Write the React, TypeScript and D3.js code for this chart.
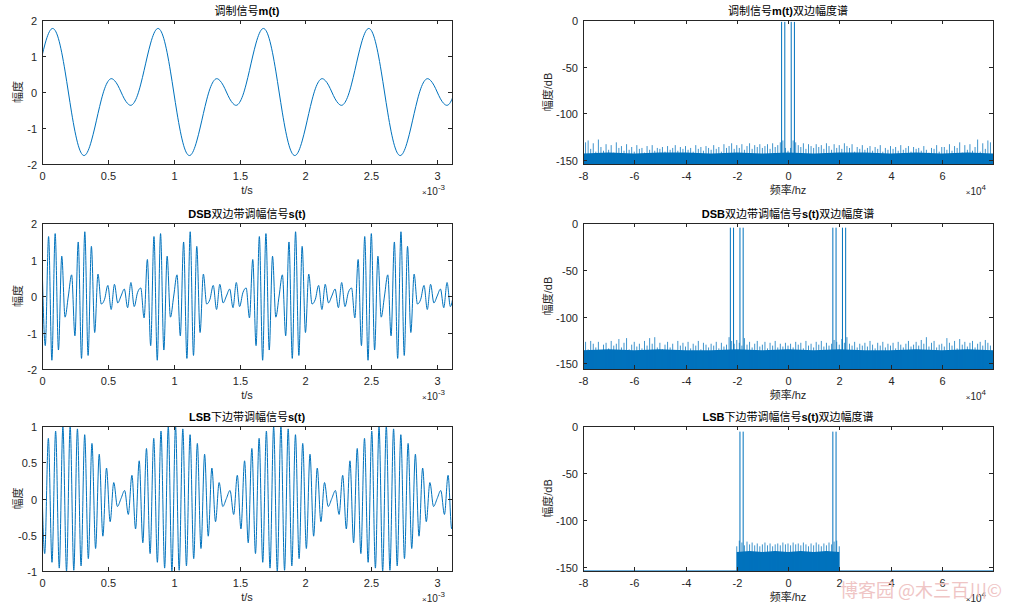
import React from 'react';
import * as d3 from 'd3';

const W = 1024;
const H = 608;
const BLUE = '#0072BD';
const INK = '#262626';
const FONT = '"Liberation Sans", Arial, "Noto Sans CJK SC", sans-serif';

// ---- time signals, values read at a regular step ----
const tEnd = 3.1125e-3;
const sigStep = 0.025e-3;
const mValues = [
  1.00, 1.36, 1.63, 1.76, 1.71, 1.48, 1.09, 0.58, 0.00, -0.58, -1.09, -1.48, -1.71, -1.76, -1.63, -1.36,
  -1.00, -0.60, -0.22, 0.09, 0.29, 0.37, 0.32, 0.19, 0.00, -0.19, -0.32, -0.37, -0.29, -0.09, 0.22, 0.60,
  1.00, 1.36, 1.63, 1.76, 1.71, 1.48, 1.09, 0.58, 0.00, -0.58, -1.09, -1.48, -1.71, -1.76, -1.63, -1.36,
  -1.00, -0.60, -0.22, 0.09, 0.29, 0.37, 0.32, 0.19, 0.00, -0.19, -0.32, -0.37, -0.29, -0.09, 0.22, 0.60,
  1.00, 1.36, 1.63, 1.76, 1.71, 1.48, 1.09, 0.58, 0.00, -0.58, -1.09, -1.48, -1.71, -1.76, -1.63, -1.36,
  -1.00, -0.60, -0.22, 0.09, 0.29, 0.37, 0.32, 0.19, 0.00, -0.19, -0.32, -0.37, -0.29, -0.09, 0.22, 0.60,
  1.00, 1.36, 1.63, 1.76, 1.71, 1.48, 1.09, 0.58, 0.00, -0.58, -1.09, -1.48, -1.71, -1.76, -1.63, -1.36,
  -1.00, -0.60, -0.22, 0.09, 0.29, 0.37, 0.32, 0.19, 0.00, -0.19, -0.32, -0.37, -0.29, -0.09,
];
const dsbValues = [
  1.00, -1.36, 1.63, -1.76, 1.71, -1.48, 1.09, -0.58, 0.00, 0.58, -1.09, 1.48, -1.71, 1.76, -1.63, 1.36,
  -1.00, 0.60, -0.22, -0.09, 0.29, -0.37, 0.32, -0.19, 0.00, 0.19, -0.32, 0.37, -0.29, 0.09, 0.22, -0.60,
  1.00, -1.36, 1.63, -1.76, 1.71, -1.48, 1.09, -0.58, 0.00, 0.58, -1.09, 1.48, -1.71, 1.76, -1.63, 1.36,
  -1.00, 0.60, -0.22, -0.09, 0.29, -0.37, 0.32, -0.19, 0.00, 0.19, -0.32, 0.37, -0.29, 0.09, 0.22, -0.60,
  1.00, -1.36, 1.63, -1.76, 1.71, -1.48, 1.09, -0.58, 0.00, 0.58, -1.09, 1.48, -1.71, 1.76, -1.63, 1.36,
  -1.00, 0.60, -0.22, -0.09, 0.29, -0.37, 0.32, -0.19, 0.00, 0.19, -0.32, 0.37, -0.29, 0.09, 0.22, -0.60,
  1.00, -1.36, 1.63, -1.76, 1.71, -1.48, 1.09, -0.58, 0.00, 0.58, -1.09, 1.48, -1.71, 1.76, -1.63, 1.36,
  -1.00, 0.60, -0.22, -0.09, 0.29, -0.37, 0.32, -0.19, 0.00, 0.19, -0.32, 0.37, -0.29, 0.09,
];
// LSB peaks (carrier ~18.1 kHz), first one just before t = 0
const lsbStart = -6.9e-6;
const lsbStep = 27.586e-6;
const lsbValues = [
  0.69,
  -0.76, 0.83, -0.88, 0.93, -0.96, 0.99, -1.00, 1.00, -0.99, 0.96, -0.93, 0.88, -0.83, 0.76, -0.69,
  0.61, -0.52, 0.42, -0.32, 0.22, -0.11, 0.00, 0.11, -0.22, 0.32, -0.42, 0.52, -0.61, 0.69,
  -0.76, 0.83, -0.88, 0.93, -0.96, 0.99, -1.00, 1.00, -0.99, 0.96, -0.93, 0.88, -0.83, 0.76, -0.69,
  0.61, -0.52, 0.42, -0.32, 0.22, -0.11, 0.00, 0.11, -0.22, 0.32, -0.42, 0.52, -0.61, 0.69,
  -0.76, 0.83, -0.88, 0.93, -0.96, 0.99, -1.00, 1.00, -0.99, 0.96, -0.93, 0.88, -0.83, 0.76, -0.69,
  0.61, -0.52, 0.42, -0.32, 0.22, -0.11, 0.00, 0.11, -0.22, 0.32, -0.42, 0.52, -0.61, 0.69,
  -0.76, 0.83, -0.88, 0.93, -0.96, 0.99, -1.00, 1.00, -0.99, 0.96, -0.93, 0.88, -0.83, 0.76, -0.69,
  0.61, -0.52, 0.42, -0.32, 0.22, -0.11, 0.00, 0.11, -0.22, 0.32, -0.42, 0.52,
];

const timeTicks = [0, 0.5e-3, 1e-3, 1.5e-3, 2e-3, 2.5e-3, 3e-3];
const timeTickLabels = ['0', '0.5', '1', '1.5', '2', '2.5', '3'];
const ampTicks = [-2, -1, 0, 1, 2];
const ampTickLabels = ['-2', '-1', '0', '1', '2'];
const lsbAmpTicks = [-1, -0.5, 0, 0.5, 1];
const lsbAmpTickLabels = ['-1', '-0.5', '0', '0.5', '1'];

// ---- spectra ----
const freqTicks = [-8e4, -6e4, -4e4, -2e4, 0, 2e4, 4e4, 6e4];
const freqTickLabels = ['-8', '-6', '-4', '-2', '0', '2', '4', '6'];
const dbTicks = [-150, -100, -50, 0];
const dbTickLabels = ['-150', '-100', '-50', '0'];

const spikeFreqs = d3.range(-80, 80).map((k) => k * 1000);
const bandFreqs = d3.range(-80, 81, 10).map((k) => k * 1000);
const lsbSpikeFreqs = d3.range(-20, 21).map((k) => k * 1000);
const lsbBandFreqs = d3.range(-20, 21, 5).map((k) => k * 1000);

const mToneFreqs = [-2500, -1250, 1250, 2500];
const mToneDb = [-2, -2, -2, -2];
const mBandDb = [-143, -142, -143, -142, -142, -143, -142, -143, -142, -143, -142, -142, -143, -142, -143, -142, -143];
const mSpikeDb = [
  -137, -131, -129, -138, -132, -141, -128, -136, -140, -133,
  -139, -134, -142, -131, -137, -135, -140, -133, -139, -136,
  -141, -134, -138, -137, -142, -135, -139, -134, -140, -137,
  -138, -136, -141, -135, -139, -137, -134, -140, -136, -138,
  -135, -139, -137, -141, -134, -138, -136, -140, -135, -137,
  -139, -134, -138, -136, -141, -133, -137, -135, -132, -138,
  -134, -137, -133, -139, -135, -132, -138, -134, -136, -133,
  -137, -135, -133, -138, -132, -136, -134, -131, -129, -137,
  -140, -137, -129, -131, -134, -136, -132, -138, -133, -135,
  -137, -133, -136, -134, -138, -132, -135, -139, -133, -137,
  -134, -138, -132, -135, -137, -133, -141, -136, -138, -134,
  -139, -137, -135, -140, -136, -138, -134, -141, -137, -139,
  -135, -138, -136, -140, -134, -139, -137, -135, -141, -136,
  -138, -137, -140, -135, -139, -142, -137, -138, -134, -141,
  -136, -136, -139, -133, -140, -135, -137, -131, -142, -134,
  -139, -133, -140, -136, -128, -141, -132, -138, -129, -131,
];

const dsbToneFreqs = [-22500, -21250, -18750, -17500, 17500, 18750, 21250, 22500];
const dsbToneDb = [-5, -5, -5, -5, -5, -5, -5, -5];
const dsbBandDb = [-136, -135, -136, -135, -136, -136, -135, -136, -135, -136, -135, -136, -136, -135, -136, -135, -136];
const dsbSpikeDb = [
  -131, -127, -135, -126, -129, -133, -127, -136, -130, -128,
  -134, -126, -131, -129, -124, -133, -128, -123, -135, -130,
  -127, -132, -129, -134, -126, -131, -123, -129, -122, -133,
  -128, -135, -130, -127, -133, -129, -136, -126, -131, -128,
  -132, -127, -134, -129, -131, -126, -135, -128, -130, -133,
  -129, -131, -127, -134, -128, -132, -130, -122, -126, -129,
  -125, -128, -131, -123, -130, -127, -133, -129, -126, -132,
  -130, -127, -134, -128, -131, -126, -133, -129, -132, -128,
  -131, -129, -133, -127, -130, -128, -134, -126, -131, -129,
  -133, -127, -130, -126, -132, -128, -131, -129, -125, -127,
  -130, -124, -128, -122, -129, -131, -127, -133, -129, -131,
  -128, -132, -126, -130, -134, -128, -131, -127, -133, -129,
  -131, -128, -134, -127, -130, -133, -129, -126, -132, -130,
  -127, -131, -125, -129, -122, -132, -128, -126, -133, -130,
  -129, -132, -123, -128, -131, -126, -134, -124, -130, -127,
  -132, -128, -126, -133, -129, -127, -131, -125, -128, -131,
];

const lsbToneFreqs = [-18750, -17500, 17500, 18750];
const lsbToneDb = [-6, -6, -6, -6];
const lsbFloorDb = -154;
const lsbBandDb = [-134, -133, -134, -133, -134, -133, -134, -133, -134];
const lsbSpikeDb = [
  -128, -122, -124, -127, -123, -126, -124, -127, -125, -128,
  -126, -124, -127, -125, -128, -126, -125, -127, -124, -126,
  -125, -127, -124, -126, -125, -127, -124, -126, -128, -125,
  -127, -124, -126, -128, -125, -127, -124, -126, -123, -122, -128,
];

const LEFT = [42, 452];
const RIGHT = [583, 993];
const ROWS = [[20, 164], [223, 369], [426, 571]];

function Title({ x, y, text }) {
  const parts = text.match(/[\x00-\x7F]+|[^\x00-\x7F]+/g) || [];
  return (
    <text x={x} y={y} textAnchor="middle" fontSize={11} fill="#000">
      {parts.map((p, i) => (
        <tspan key={i} fontWeight={/[\x00-\x7F]/.test(p) ? 'bold' : 'normal'}>{p}</tspan>
      ))}
    </text>
  );
}

function Axes({ x0, x1, y0, y1, xScale, yScale, xTicks, xTickLabels, yTicks, yTickLabels,
  title, xLabel, yLabel, yLabelDx, exponent, clipId, children }) {
  return (
    <g>
      <defs>
        <clipPath id={clipId}>
          <rect x={x0} y={y0} width={x1 - x0} height={y1 - y0} />
        </clipPath>
      </defs>
      <g clipPath={`url(#${clipId})`}>{children}</g>
      <rect x={x0 + 0.5} y={y0 + 0.5} width={x1 - x0} height={y1 - y0} fill="none" stroke={INK} strokeWidth={1} />
      {xTicks.map((t, i) => {
        const x = Math.round(xScale(t)) + 0.5;
        return (
          <g key={'x' + i}>
            <line x1={x} x2={x} y1={y1} y2={y1 - 4} stroke={INK} />
            <line x1={x} x2={x} y1={y0} y2={y0 + 4} stroke={INK} />
            <text x={x} y={y1 + 16} textAnchor="middle" fontSize={11} fill={INK}>{xTickLabels[i]}</text>
          </g>
        );
      })}
      {yTicks.map((t, i) => {
        const y = Math.round(yScale(t)) + 0.5;
        return (
          <g key={'y' + i}>
            <line x1={x0} x2={x0 + 4} y1={y} y2={y} stroke={INK} />
            <line x1={x1} x2={x1 - 4} y1={y} y2={y} stroke={INK} />
            <text x={x0 - 5} y={y + 4} textAnchor="end" fontSize={11} fill={INK}>{yTickLabels[i]}</text>
          </g>
        );
      })}
      <Title x={(x0 + x1) / 2} y={y0 - 5} text={title} />
      <text x={(x0 + x1) / 2} y={y1 + 30} textAnchor="middle" fontSize={11} fill={INK}>{xLabel}</text>
      <text x={x1 - 7} y={y1 + 31} textAnchor="end" fontSize={10} fill={INK}>
        <tspan fontSize={8}>×</tspan>10<tspan dy={-5} fontSize={8}>{exponent}</tspan>
      </text>
      <text transform={`translate(${x0 - yLabelDx},${(y0 + y1) / 2}) rotate(-90)`} textAnchor="middle"
        dy="0.35em" fontSize={11} fill={INK}>{yLabel}</text>
    </g>
  );
}

function TimePanel({ row, title, values, t0, step, yDomain, yTicks, yTickLabels, curve, id }) {
  const [y0, y1] = ROWS[row];
  const [x0, x1] = LEFT;
  const x = d3.scaleLinear().domain([0, tEnd]).range([x0, x1]);
  const y = d3.scaleLinear().domain(yDomain).range([y1, y0]);
  const line = d3.line<number>()
    .x((_, i) => x(t0 + i * step))
    .y((d) => y(d))
    .curve(curve);
  return (
    <Axes x0={x0} x1={x1} y0={y0} y1={y1} xScale={x} yScale={y} xTicks={timeTicks} xTickLabels={timeTickLabels}
      yTicks={yTicks} yTickLabels={yTickLabels} title={title} xLabel="t/s" yLabel="幅度" yLabelDx={24}
      exponent="-3" clipId={id}>
      <path d={line(values) || ''} fill="none" stroke={BLUE} strokeWidth={1} />
    </Axes>
  );
}

function SpecPanel({ row, title, yMin, tones, toneDb, band, bandDb, spikes, spikeDb, floorDb, id }) {
  const [y0, y1] = ROWS[row];
  const [x0, x1] = RIGHT;
  const x = d3.scaleLinear().domain([-80000, 79999]).range([x0, x1]);
  const y = d3.scaleLinear().domain([yMin, 0]).range([y1, y0]);
  const area = d3.area<number>()
    .x((f) => x(f))
    .y0(y1)
    .y1((_, i) => y(bandDb[i]));
  return (
    <Axes x0={x0} x1={x1} y0={y0} y1={y1} xScale={x} yScale={y} xTicks={freqTicks} xTickLabels={freqTickLabels}
      yTicks={dbTicks} yTickLabels={dbTickLabels} title={title} xLabel="频率/hz" yLabel="幅度/dB" yLabelDx={35}
      exponent="4" clipId={id}>
      {floorDb !== undefined && (
        <line x1={x0} x2={x1} y1={y(floorDb)} y2={y(floorDb)} stroke={BLUE} strokeWidth={1} opacity={0.7} />
      )}
      <path d={area(band) || ''} fill={BLUE} />
      {spikes.map((f, i) => (
        <line key={i} x1={x(f)} x2={x(f)} y1={y1} y2={y(spikeDb[i])} stroke={BLUE} strokeWidth={1} opacity={0.75} />
      ))}
      {tones.map((f, i) => (
        <line key={'t' + i} x1={x(f)} x2={x(f)} y1={y1} y2={y(toneDb[i])} stroke={BLUE} strokeWidth={1} />
      ))}
    </Axes>
  );
}

export default function App() {
  return (
    <div style={{ position: 'fixed', left: 0, top: 0, width: W, height: H, background: '#fff' }}>
      <svg width={W} height={H} style={{ display: 'block', fontFamily: FONT }}>
        <rect width={W} height={H} fill="#fff" />
        <TimePanel row={0} id="c0" title="调制信号m(t)" values={mValues} t0={0} step={sigStep}
          yDomain={[-2, 2]} yTicks={ampTicks} yTickLabels={ampTickLabels} curve={d3.curveNatural} />
        <TimePanel row={1} id="c1" title="DSB双边带调幅信号s(t)" values={dsbValues} t0={0} step={sigStep}
          yDomain={[-2, 2]} yTicks={ampTicks} yTickLabels={ampTickLabels} curve={d3.curveMonotoneX} />
        <TimePanel row={2} id="c2" title="LSB下边带调幅信号s(t)" values={lsbValues} t0={lsbStart} step={lsbStep}
          yDomain={[-1, 1]} yTicks={lsbAmpTicks} yTickLabels={lsbAmpTickLabels} curve={d3.curveMonotoneX} />
        <SpecPanel row={0} id="c3" title="调制信号m(t)双边幅度谱" yMin={-154.2} tones={mToneFreqs} toneDb={mToneDb}
          band={bandFreqs} bandDb={mBandDb} spikes={spikeFreqs} spikeDb={mSpikeDb} />
        <SpecPanel row={1} id="c4" title="DSB双边带调幅信号s(t)双边幅度谱" yMin={-156} tones={dsbToneFreqs} toneDb={dsbToneDb}
          band={bandFreqs} bandDb={dsbBandDb} spikes={spikeFreqs} spikeDb={dsbSpikeDb} />
        <SpecPanel row={2} id="c5" title="LSB下边带调幅信号s(t)双边幅度谱" yMin={-154.3} tones={lsbToneFreqs} toneDb={lsbToneDb}
          band={lsbBandFreqs} bandDb={lsbBandDb} spikes={lsbSpikeFreqs} spikeDb={lsbSpikeDb} floorDb={lsbFloorDb} />
        <text x={840} y={597} fontSize={18} fill="#efc5c5" fontFamily='"Noto Sans CJK SC", sans-serif'>博客园 @木三百川©</text>
      </svg>
    </div>
  );
}
